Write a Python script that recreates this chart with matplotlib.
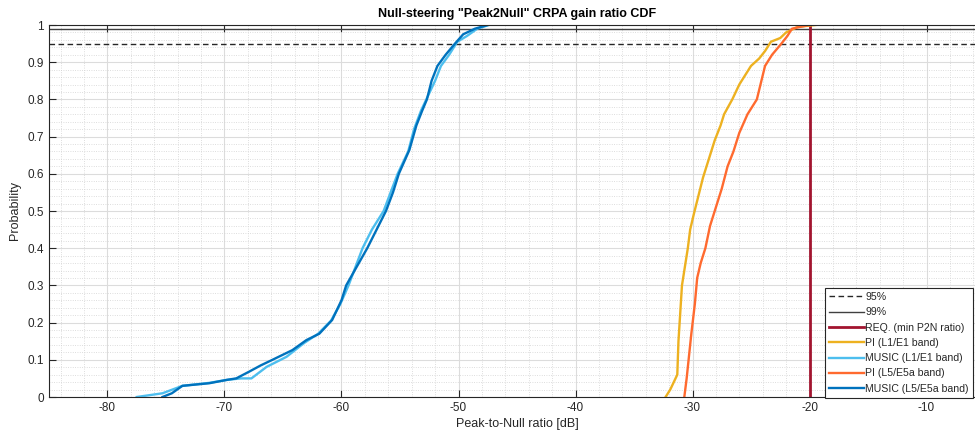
import matplotlib
matplotlib.use("Agg")
import matplotlib.pyplot as plt
from matplotlib.ticker import MultipleLocator

plt.rcParams['font.family'] = ['Liberation Sans', 'DejaVu Sans']
plt.rcParams['axes.unicode_minus'] = False

# CDF curves: (dB value, cumulative probability)
music_l5_db = [-75.3, -74.5, -73.6, -71.3, -69.8, -69.0, -67.9, -66.9, -65.9, -64.2, -63.0,
               -61.9, -60.8, -60.0, -59.6, -58.7, -57.8, -57.0, -56.2, -55.6, -55.1, -54.2,
               -53.6, -53.1, -52.7, -52.3, -51.8, -51.1, -50.3, -49.6, -48.6, -47.5]
music_l5_p = [0.0, 0.01, 0.03, 0.037, 0.046, 0.05, 0.068, 0.085, 0.10, 0.126, 0.153,
              0.17, 0.207, 0.26, 0.30, 0.35, 0.40, 0.45, 0.50, 0.55, 0.60, 0.664,
              0.73, 0.77, 0.80, 0.85, 0.89, 0.92, 0.95, 0.975, 0.99, 1.0]

music_l1_db = [-77.5, -76.4, -75.3, -73.6, -71.3, -69.8, -68.6, -67.7, -66.4, -64.7, -63.2,
               -62.0, -60.9, -60.1, -59.4, -58.8, -58.2, -57.4, -56.4, -55.8, -55.2, -54.3,
               -53.8, -53.2, -52.6, -52.0, -51.5, -50.8, -50.1, -49.3, -48.4, -47.4]
music_l1_p = [0.0, 0.005, 0.01, 0.03, 0.038, 0.046, 0.05, 0.05, 0.081, 0.108, 0.145,
              0.17, 0.205, 0.25, 0.30, 0.35, 0.40, 0.45, 0.50, 0.55, 0.60, 0.66,
              0.72, 0.77, 0.81, 0.85, 0.89, 0.92, 0.955, 0.97, 0.99, 1.0]

pi_l1_db = [-32.3, -31.9, -31.3, -31.2, -31.0, -30.9, -30.6, -30.4, -30.2, -29.9, -29.5,
            -29.1, -28.6, -28.1, -27.6, -27.3, -26.6, -26.0, -25.0, -24.3, -23.8, -23.3,
            -22.5, -22.0, -21.0, -19.5]
pi_l1_p = [0.0, 0.02, 0.06, 0.15, 0.25, 0.30, 0.36, 0.40, 0.45, 0.49, 0.54,
           0.59, 0.64, 0.69, 0.73, 0.76, 0.80, 0.84, 0.89, 0.91, 0.93, 0.955,
           0.965, 0.98, 0.995, 1.0]

pi_l5_db = [-30.7, -30.5, -30.3, -30.1, -29.8, -29.6, -29.3, -28.9, -28.5, -28.0, -27.5,
            -27.0, -26.5, -26.0, -25.3, -24.5, -23.8, -23.2, -22.4, -21.9, -21.5, -20.8,
            -20.0]
pi_l5_p = [0.0, 0.05, 0.11, 0.17, 0.25, 0.32, 0.36, 0.40, 0.46, 0.51, 0.56,
           0.62, 0.66, 0.71, 0.76, 0.80, 0.89, 0.92, 0.95, 0.97, 0.99, 0.995,
           1.0]

req_db = -20
level_95 = 0.95
level_99 = 0.99

fig = plt.figure(figsize=(9.75, 4.32), dpi=100)
ax = fig.add_axes([49 / 975, 35 / 432, 936 / 975, 372 / 432])

ax.axhline(level_95, color='#262626', ls=(0, (4, 2.5)), lw=1.0, label='95%')
ax.axhline(level_99, color='#404040', ls='-', lw=1.0, label='99%')
ax.plot([req_db, req_db], [0, 1], color='#A2142F', lw=2.0, label='REQ. (min P2N ratio)')
ax.plot(pi_l1_db, pi_l1_p, color='#EDB120', lw=1.7, label='PI (L1/E1 band)')
ax.plot(music_l1_db, music_l1_p, color='#4DBEEE', lw=1.7, label='MUSIC (L1/E1 band)')
ax.plot(pi_l5_db, pi_l5_p, color='#FF6A2F', lw=1.7, label='PI (L5/E5a band)')
ax.plot(music_l5_db, music_l5_p, color='#0072BD', lw=1.7, label='MUSIC (L5/E5a band)')

ax.set_xlim(-85, -5)
ax.set_ylim(0, 1)
ax.xaxis.set_major_locator(MultipleLocator(10))
ax.xaxis.set_minor_locator(MultipleLocator(2))
ax.yaxis.set_minor_locator(MultipleLocator(0.02))
ax.set_yticks([0, 0.1, 0.2, 0.3, 0.4, 0.5, 0.6, 0.7, 0.8, 0.9, 1.0])
ax.set_yticklabels(['0', '0.1', '0.2', '0.3', '0.4', '0.5', '0.6', '0.7', '0.8', '0.9', '1'])

ax.grid(True, which='major', color='#dcdcdc', lw=0.8)
ax.grid(True, which='minor', color='#d2d2d2', lw=0.6, ls=(0, (1, 1.8)))
ax.set_axisbelow(True)
ax.tick_params(which='major', direction='in', length=5, width=0.8, colors='#262626',
               labelsize=8.5, top=True, right=True)
ax.tick_params(which='minor', length=0)
for s in ax.spines.values():
    s.set_color('#262626')
    s.set_linewidth(0.8)

ax.set_title('Null-steering "Peak2Null" CRPA gain ratio CDF', fontsize=9,
             fontweight='bold', color='#000000', pad=6)
ax.set_xlabel('Peak-to-Null ratio [dB]', fontsize=9, color='#262626', labelpad=3)
ax.set_ylabel('Probability', fontsize=9, color='#262626', labelpad=5)

leg = ax.legend(loc='lower right', bbox_to_anchor=(973 / 975, 34 / 432),
                bbox_transform=fig.transFigure, borderaxespad=0, fontsize=7.6,
                fancybox=False, framealpha=1, edgecolor='#262626', handlelength=3.3,
                labelspacing=0.5, handletextpad=0.1, borderpad=0.4)
leg.get_frame().set_linewidth(0.8)
for t in leg.get_texts():
    t.set_color('#262626')

fig.savefig('out.png', dpi=100)
